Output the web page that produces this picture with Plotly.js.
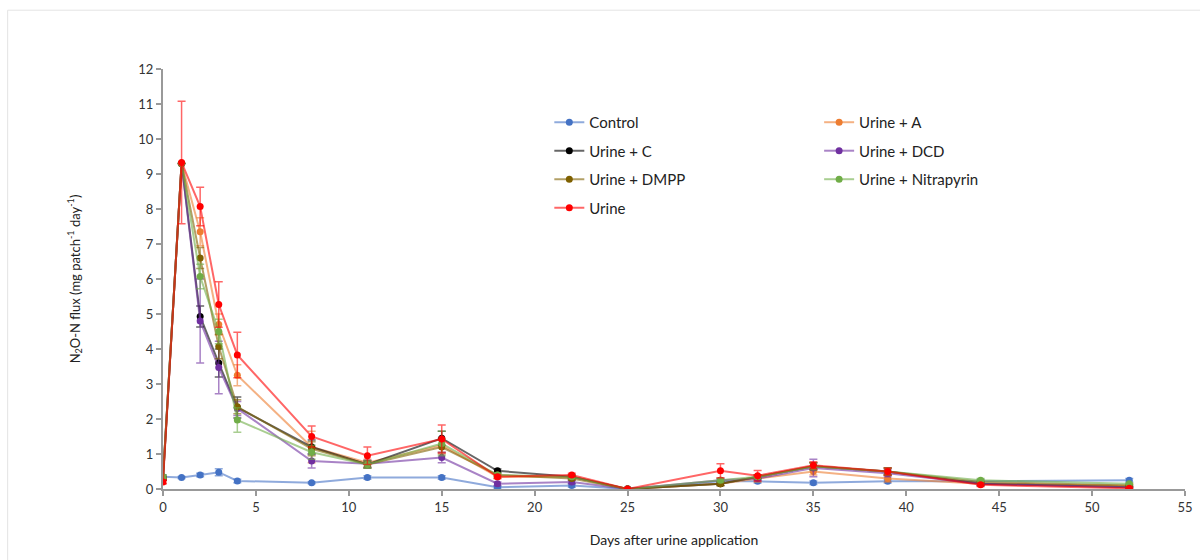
<!DOCTYPE html>
<html>
<head>
<meta charset="utf-8">
<script src="https://cdn.plot.ly/plotly-3.0.1.min.js"></script>
<style>html,body{margin:0;padding:0;background:#fff;}#chart{width:1200px;height:560px;}</style>
</head>
<body>
<div id="chart"></div>
<script>
const days = [0,1,2,3,4,8,11,15,18,22,25,30,32,35,39,44,52];

const seriesNames = ["Control","Urine + A","Urine + C","Urine + DCD","Urine + DMPP","Urine + Nitrapyrin","Urine"];
const seriesColors = ["#4472C4","#ED7D31","#000000","#7030A0","#7F6000","#70AD47","#FF0000"];
const lineColors = ["rgba(68,114,196,0.6)","rgba(237,125,49,0.6)","rgba(0,0,0,0.6)","rgba(112,48,160,0.6)","rgba(127,96,0,0.6)","rgba(112,173,71,0.6)","rgba(255,0,0,0.6)"];
const legendColumn = ["legend","legend2","legend","legend2","legend","legend2","legend"];

const control    = [0.35,0.33,0.40,0.48,0.23,0.18,0.33,0.33,0.05,0.10,0.00,0.22,0.22,0.18,0.22,0.22,0.25];
const urineA     = [0.30,9.30,7.35,4.70,3.25,1.20,0.75,1.25,0.35,0.35,0.00,0.15,0.30,0.50,0.30,0.15,0.10];
const urineC     = [0.30,9.30,4.93,3.60,2.33,1.20,0.70,1.45,0.52,0.35,0.00,0.15,0.35,0.65,0.50,0.15,0.05];
const urineDCD   = [0.30,9.30,4.80,3.47,2.30,0.80,0.72,0.90,0.15,0.20,0.00,0.25,0.30,0.60,0.45,0.15,0.05];
const urineDMPP  = [0.30,9.30,6.60,4.07,2.35,1.15,0.70,1.20,0.40,0.30,0.00,0.15,0.35,0.65,0.50,0.20,0.10];
const urineNitra = [0.35,9.30,6.07,4.50,1.97,1.05,0.70,1.30,0.40,0.35,0.00,0.25,0.35,0.65,0.50,0.25,0.15];
const urine      = [0.20,9.33,8.07,5.27,3.83,1.50,0.95,1.43,0.35,0.40,0.00,0.52,0.38,0.68,0.50,0.12,0.02];

const errControl = [0.05,0.03,0.05,0.10,0.05,0.03,0.05,0.05,0.03,0.05,0.00,0.05,0.05,0.05,0.05,0.05,0.05];
const errA       = [0.05,0.00,0.40,0.30,0.30,0.45,0.10,0.20,0.05,0.05,0.00,0.05,0.10,0.10,0.10,0.05,0.05];
const errC       = [0.05,0.00,0.30,0.40,0.30,0.20,0.10,0.20,0.05,0.05,0.00,0.05,0.05,0.10,0.10,0.05,0.02];
const errDCD     = [0.05,0.00,1.20,0.75,0.20,0.20,0.10,0.15,0.05,0.05,0.00,0.05,0.05,0.25,0.10,0.05,0.02];
const errDMPP    = [0.05,0.00,0.30,0.35,0.20,0.20,0.10,0.20,0.05,0.05,0.00,0.05,0.05,0.10,0.10,0.05,0.02];
const errNitra   = [0.05,0.00,0.35,0.35,0.35,0.20,0.10,0.35,0.05,0.05,0.00,0.05,0.05,0.10,0.10,0.05,0.02];
const errUrine   = [0.05,1.75,0.55,0.65,0.65,0.30,0.25,0.40,0.05,0.05,0.00,0.20,0.15,0.10,0.10,0.05,0.02];

const values = [control,urineA,urineC,urineDCD,urineDMPP,urineNitra,urine];
const errors = [errControl,errA,errC,errDCD,errDMPP,errNitra,errUrine];

const xTicks = [0,5,10,15,20,25,30,35,40,45,50,55];
const yTicks = [0,1,2,3,4,5,6,7,8,9,10,11,12];

const traces = values.map((v,i) => ({
  x: days, y: v, name: seriesNames[i], type: 'scatter', mode: 'lines+markers',
  legend: legendColumn[i], legendgroup: 'g' + i,
  line: {color: lineColors[i], width: 2},
  marker: {color: seriesColors[i], size: 7},
  error_y: {type: 'data', array: errors[i], visible: true, color: lineColors[i], thickness: 1.5, width: 4}
}));

const legendStyle = (x) => ({
  orientation: 'v', x: x, y: 0.912, xanchor: 'left', yanchor: 'top',
  font: {size: 15, color: '#222'}, bgcolor: 'rgba(0,0,0,0)', traceorder: 'grouped',
  tracegroupgap: 6, itemwidth: 30
});

const layout = {
  width: 1200, height: 560,
  margin: {l: 163, r: 15, t: 69, b: 71},
  paper_bgcolor: '#fff', plot_bgcolor: '#fff',
  font: {family: 'Lato, "Liberation Sans", sans-serif', color: '#333', size: 12},
  showlegend: true,
  legend: legendStyle(0.378),
  legend2: legendStyle(0.642),
  xaxis: {
    range: [0,55], tickvals: xTicks, ticktext: xTicks.map(String),
    showgrid: false, zeroline: false, showline: true, linecolor: '#999', linewidth: 2,
    ticks: 'outside', ticklen: 5, tickcolor: '#999', tickwidth: 2,
    tickfont: {size: 13, color: '#333'},
    title: {text: 'Days after urine application', font: {size: 14, color: '#222'}, standoff: 22}
  },
  yaxis: {
    range: [0,12], tickvals: yTicks, ticktext: yTicks.map(String),
    showgrid: false, zeroline: false, showline: true, linecolor: '#999', linewidth: 2,
    ticks: 'outside', ticklen: 5, tickcolor: '#999', tickwidth: 2,
    tickfont: {size: 13, color: '#333'},
    title: {text: 'N<sub>2</sub>O-N flux (mg patch<sup>-1</sup> day<sup>-1</sup>)', font: {size: 13, color: '#222'}, standoff: 55}
  },
  shapes: [
    {type: 'line', xref: 'paper', yref: 'paper', x0: -0.152, x1: 1.02, y0: 1.14, y1: 1.14, line: {color: '#e4e4e4', width: 1}},
    {type: 'line', xref: 'paper', yref: 'paper', x0: -0.152, x1: -0.152, y0: 1.14, y1: -0.2, line: {color: '#e4e4e4', width: 1}}
  ]
};

Plotly.newPlot('chart', traces, layout, {displayModeBar: false, staticPlot: true});
</script>
</body>
</html>
